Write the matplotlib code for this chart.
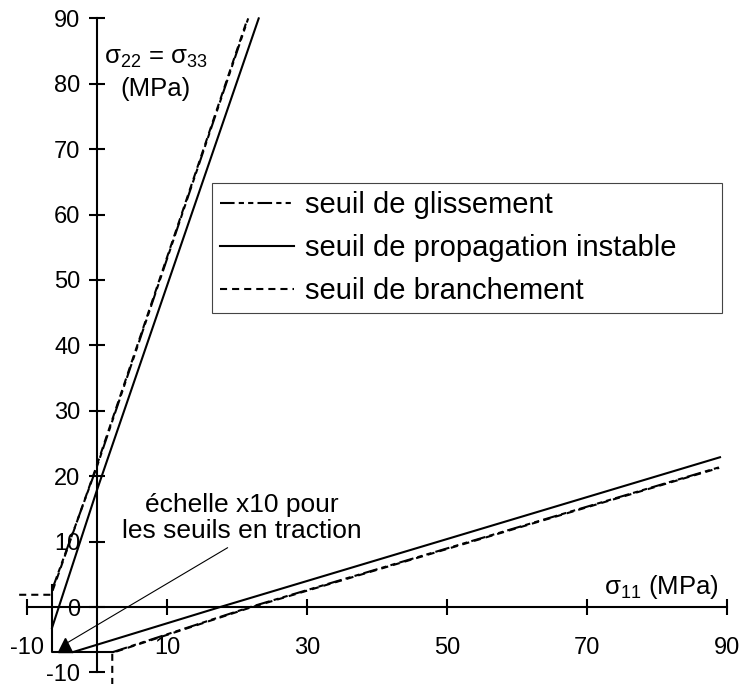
# crack thresholds in the (sigma11, sigma22=sigma33) plane

import matplotlib.pyplot as plt
from matplotlib import transforms

plt.rcParams['font.family'] = ['Liberation Sans', 'DejaVu Sans']
plt.rcParams['mathtext.fontset'] = 'custom'
plt.rcParams['mathtext.rm'] = 'Liberation Sans'
plt.rcParams['mathtext.it'] = 'Liberation Sans'
plt.rcParams['mathtext.default'] = 'regular'
plt.rcParams['axes.unicode_minus'] = False

# seuil de propagation instable (solid)
prop_steep_x = [-6.43, 0, 23.1]
prop_steep_y = [-3.2, 17.9, 90]
prop_shallow_x = [-3.4, 17.6, 89]
prop_shallow_y = [-6.88, 0, 22.9]

# seuil de glissement (dash-dot-dot)
gliss_steep_x = [-6.43, 0, 21.6]
gliss_steep_y = [2.6, 21.5, 90]
gliss_shallow_x = [2.3, 21.9, 89]
gliss_shallow_y = [-6.88, 0, 21.4]

# seuil de branchement (dashed)
branch_steep_x = [-11.0, -6.43, 0, 21.6]
branch_steep_y = [2.0, 2.0, 21.5, 90]
branch_shallow_x = [2.3, 2.3, 21.9, 89]
branch_shallow_y = [-11.8, -6.88, 0, 21.4]

# tension cut-off, drawn at x10 scale
trac_x = [-6.43, -6.43, 2.3]
trac_y = [3.4, -6.88, -6.88]

xticks = [-10, 10, 30, 50, 70, 90]
yticks = list(range(-10, 91, 10))

fig = plt.figure(figsize=(7.39, 6.84), dpi=100)
ax = fig.add_axes([0, 0, 1, 1])
ax.set_xlim(-13.857, 91.714)
ax.set_ylim(-11.77, 92.81)

lw = 1.5
gliss_dash = (7, 2, 2.5, 2, 2.5, 2)
branch_dash = (3.4, 2.4)
shifted = transforms.offset_copy(ax.transData, fig=fig, x=-0.6, y=-0.6, units='points')

ax.plot(gliss_steep_x, gliss_steep_y, color='black', lw=lw, dashes=gliss_dash,
        label='seuil de glissement', zorder=4)
ax.plot(gliss_shallow_x, gliss_shallow_y, color='black', lw=lw, dashes=gliss_dash, zorder=4)
ax.plot(prop_steep_x, prop_steep_y, color='black', lw=lw,
        label='seuil de propagation instable', zorder=4)
ax.plot(prop_shallow_x, prop_shallow_y, color='black', lw=lw, zorder=4)
ax.plot(branch_steep_x, branch_steep_y, color='black', lw=lw, dashes=branch_dash,
        label='seuil de branchement', transform=shifted, zorder=4)
ax.plot(branch_shallow_x, branch_shallow_y, color='black', lw=lw, dashes=branch_dash,
        transform=shifted, zorder=4)
ax.plot(trac_x, trac_y, color='black', lw=lw, zorder=4)

# axes crossing at the origin
for side in ['top', 'right']:
    ax.spines[side].set_visible(False)
ax.spines['left'].set_position(('data', 0))
ax.spines['bottom'].set_position(('data', 0))
ax.spines['left'].set_bounds(-10, 90)
ax.spines['bottom'].set_bounds(-10, 90)
ax.spines['left'].set_linewidth(1.5)
ax.spines['bottom'].set_linewidth(1.5)
ax.set_xticks(xticks)
ax.set_yticks(yticks)
ax.tick_params(direction='inout', length=12, width=1.5, labelsize=17)
ax.tick_params(axis='x', pad=15.5)
ax.tick_params(axis='y', pad=6)

ax.text(8.4, 83.9, r'$\sigma_{22}$ = $\sigma_{33}$', ha='center', va='center', fontsize=18.5)
ax.text(8.4, 79.2, '(MPa)', ha='center', va='center', fontsize=18.5)
ax.text(80.6, 3.06, r'$\sigma_{11}$ (MPa)', ha='center', va='center', fontsize=18.5)

# note on the tension zone
ax.annotate('échelle x10 pour\nles seuils en traction', xy=(-4.3, -5.5), xytext=(20.7, 13.6),
            ha='center', va='center', fontsize=19, linespacing=1.15,
            arrowprops=dict(arrowstyle='-', lw=0.8, color='black', relpos=(0.47, 0),
                            shrinkA=2, shrinkB=0))
ax.plot(-4.57, -5.81, marker='^', ms=10, color='black', zorder=5)

# legend box stretched to the reference frame width
leg = ax.legend(loc='upper left',
                bbox_to_anchor=(212 / 739, 1 - 183 / 684, 510 / 739, 0),
                bbox_transform=fig.transFigure, mode='expand', frameon=True, fancybox=False,
                edgecolor='#444444', framealpha=1, fontsize=21, handlelength=2.55,
                handletextpad=0.36, labelspacing=0.52, borderaxespad=0, borderpad=0.27)
leg.get_frame().set_linewidth(0.8)

fig.savefig('out.png', dpi=100)
